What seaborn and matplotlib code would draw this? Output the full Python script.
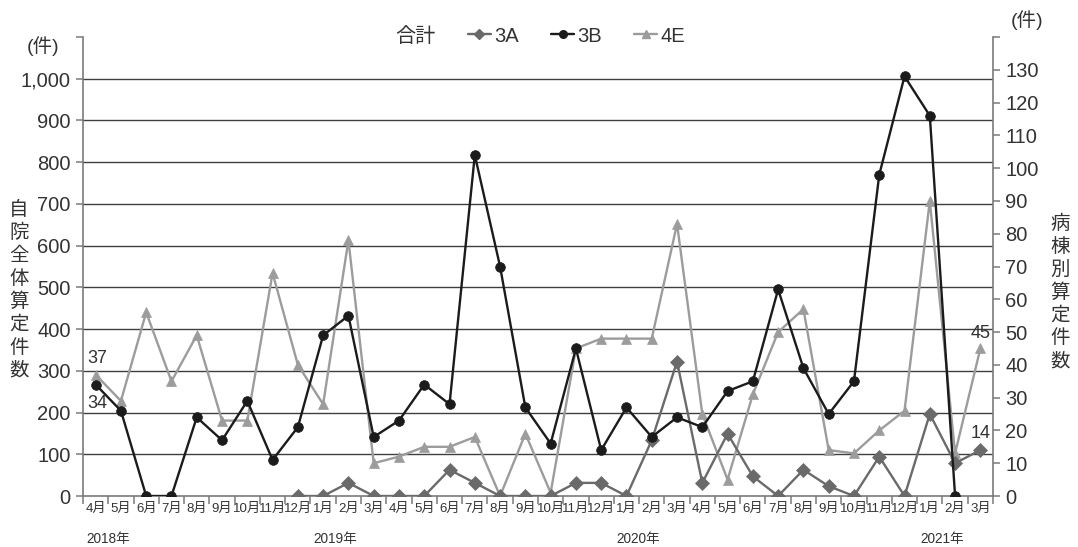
import matplotlib
matplotlib.use("Agg")
import numpy as np
import pandas as pd
import seaborn as sns
import matplotlib.pyplot as plt
from matplotlib import font_manager
from matplotlib.lines import Line2D
from matplotlib.ticker import FixedLocator, FixedFormatter

# ---- data ---------------------------------------------------------------
months = ["4月", "5月", "6月", "7月", "8月", "9月", "10月", "11月", "12月",
          "1月", "2月", "3月", "4月", "5月", "6月", "7月", "8月", "9月",
          "10月", "11月", "12月", "1月", "2月", "3月", "4月", "5月", "6月",
          "7月", "8月", "9月", "10月", "11月", "12月", "1月", "2月", "3月"]
year_marks = {0: "2018年", 9: "2019年", 21: "2020年", 33: "2021年"}

nan = np.nan
ward_3a = [nan] * 8 + [0, 0, 4, 0, 0, 0, 8, 4, 0, 0, 0, 4, 4, 0, 17, 41, 4,
                       19, 6, 0, 8, 3, 0, 12, 0, 25, 10, 14]
ward_3b = [34, 26, 0, 0, 24, 17, 29, 11, 21, 49, 55, 18, 23, 34, 28, 104, 70,
           27, 16, 45, 14, 27, 18, 24, 21, 32, 35, 63, 39, 25, 35, 98, 128,
           116, 0, nan]
ward_4e = [37, 29, 56, 35, 49, 23, 23, 68, 40, 28, 78, 10, 12, 15, 15, 18, 0,
           19, 1, 45, 48, 48, 48, 83, 25, 5, 31, 50, 57, 14, 13, 20, 26, 90,
           13, 45]

left_ticks = list(range(0, 1101, 100))
right_ticks = list(range(0, 141, 10))

# ---- style --------------------------------------------------------------
sns.set_theme(style="white")
names = {f.name for f in font_manager.fontManager.ttflist}
CJK = "Noto Sans CJK JP"
LATIN = "Liberation Sans" if "Liberation Sans" in names else "DejaVu Sans"
NARROW = "Liberation Sans Narrow" if "Liberation Sans Narrow" in names else LATIN
plt.rcParams["font.family"] = [LATIN, CJK]
TXT = "#333333"
AXC = "#7a7a7a"

styles = {
    "3A": dict(color="#6a6a6a", marker="D", ms=7.0, z=3),
    "3B": dict(color="#1b1b1b", marker="o", ms=7.0, z=4),
    "4E": dict(color="#9c9c9c", marker="^", ms=7.0, z=2),
}

df = pd.DataFrame({"idx": np.arange(len(months)), "3A": ward_3a,
                   "3B": ward_3b, "4E": ward_4e})

W, H = 1078, 547
fig = plt.figure(figsize=(W / 100, H / 100), dpi=100)
ax = fig.add_axes([83 / W, 1 - 496 / H, (993 - 83) / W, (496 - 37) / H])
ax2 = ax.twinx()

# left axis: hospital-wide scale with horizontal rules
ax.set_ylim(0, 1100)
ax.yaxis.set_major_locator(FixedLocator(left_ticks))
ax.yaxis.set_major_formatter(FixedFormatter(
    [f"{v:,}" if v < 1100 else "" for v in left_ticks]))
for v in left_ticks[1:-1]:
    ax.axhline(v, color="#3e3e3e", lw=1.0, zorder=0)

# right axis: per-ward scale
ax2.set_ylim(0, 140)
ax2.yaxis.set_major_locator(FixedLocator(right_ticks))
ax2.yaxis.set_major_formatter(FixedFormatter(
    [str(v) if v < 140 else "" for v in right_ticks]))

for name in ["4E", "3A", "3B"]:
    st = styles[name]
    sns.lineplot(data=df, x="idx", y=name, ax=ax2, color=st["color"],
                 marker=st["marker"], markersize=st["ms"],
                 markeredgecolor=st["color"], markeredgewidth=0.5,
                 linewidth=1.7, zorder=st["z"], legend=False)

ax2.set_xlim(-0.5, len(months) - 0.5)
ax.set_xlim(-0.5, len(months) - 0.5)
ax2.set_xlabel("")
ax2.set_ylabel("")

# x axis: boundary tick marks, month names centred under each point
ax.set_xticks(np.arange(-0.5, len(months), 1.0))
ax.set_xticklabels([])
ax.set_xticks(np.arange(len(months)), minor=True)
ax.set_xticklabels(months, minor=True)
ax.tick_params(axis="x", which="major", length=6, width=1.1, color=AXC,
               direction="out", bottom=True)
ax.tick_params(axis="x", which="minor", length=0, pad=5, labelsize=9.5,
               labelcolor=TXT)
for lbl in ax.get_xticklabels(minor=True):
    lbl.set_family([NARROW, CJK])

for i, yr in year_marks.items():
    ax.annotate(yr, xy=(i, 0), xycoords=("data", "axes fraction"),
                xytext=(-7.0, -26.0), textcoords="offset points",
                ha="left", va="top", fontsize=9.8, color=TXT,
                family=[NARROW, CJK])

ax.tick_params(axis="y", which="major", length=5, width=1.1, color=AXC,
               direction="out", left=True, pad=4, labelsize=14.5,
               labelcolor=TXT)
ax2.tick_params(axis="y", which="major", length=5, width=1.1, color=AXC,
                direction="out", right=True, pad=4, labelsize=14.5,
                labelcolor=TXT)

for a in (ax, ax2):
    a.spines["top"].set_visible(False)
    for s in ("left", "right", "bottom"):
        a.spines[s].set_color(AXC)
        a.spines[s].set_linewidth(1.2)
    a.set_facecolor("none")
ax.spines["right"].set_visible(False)
ax2.spines["left"].set_visible(False)
ax2.spines["bottom"].set_visible(False)

# value labels at the first and last month
lab_kw = dict(textcoords="offset points", ha="center", va="center",
              fontsize=13, color=TXT)
ax2.annotate(f"{ward_4e[0]}", xy=(0, ward_4e[0]), xytext=(1.5, 12), **lab_kw)
ax2.annotate(f"{ward_3b[0]}", xy=(0, ward_3b[0]), xytext=(1.5, -14), **lab_kw)
last = len(months) - 1
ax2.annotate(f"{ward_4e[last]}", xy=(last, ward_4e[last]), xytext=(0, 11),
             **lab_kw)
ax2.annotate(f"{ward_3a[last]}", xy=(last, ward_3a[last]), xytext=(0, 12),
             **lab_kw)

# legend across the top
handles = [Line2D([], [], linestyle="none", label="合計")]
for name in ["3A", "3B", "4E"]:
    st = styles[name]
    handles.append(Line2D([], [], color=st["color"], marker=st["marker"],
                          ms=5.5, lw=1.7, label=name))
leg = fig.legend(handles=handles, loc="center",
                 bbox_to_anchor=(527 / W, 1 - 36 / H), ncol=4, frameon=False,
                 handlelength=1.15, handletextpad=0.15, columnspacing=1.6,
                 fontsize=14.5)
for t in leg.get_texts():
    t.set_color(TXT)

# axis titles and unit marks
fig.text(19 / W, 1 - 290 / H, "\n".join("自院全体算定件数"), ha="center",
         va="center", fontsize=14, linespacing=1.12, color=TXT, family=CJK)
fig.text(1060 / W, 1 - 292 / H, "\n".join("病棟別算定件数"), ha="center",
         va="center", fontsize=14, linespacing=1.12, color=TXT, family=CJK)
fig.text(43 / W, 1 - 46 / H, "(件)", ha="center", va="center",
         fontsize=14, color=TXT, family=[LATIN, CJK])
fig.text(1027 / W, 1 - 20 / H, "(件)", ha="center", va="center",
         fontsize=14, color=TXT, family=[LATIN, CJK])

fig.savefig("out.png", dpi=100)
